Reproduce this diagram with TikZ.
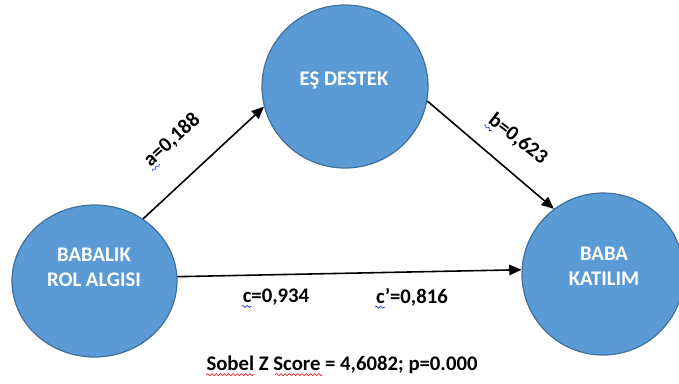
\documentclass[tikz,border=0pt]{standalone}
\usepackage{fontspec}
\setmainfont{Carlito}
\usetikzlibrary{shapes.geometric,arrows.meta,decorations.pathmorphing,calc}
\definecolor{varfill}{RGB}{91,155,213}
\definecolor{varline}{RGB}{65,113,156}
\definecolor{spellblue}{RGB}{40,60,230}
\definecolor{spellred}{RGB}{230,40,40}
\tikzset{
  var/.style={ellipse,draw=varline,fill=varfill,line width=0.7pt,inner sep=0pt},
  vartext/.style={text=white,font=\fontsize{11.8}{14.2}\selectfont\bfseries,align=center},
  coef/.style={font=\fontsize{11.8}{14}\selectfont\bfseries,inner sep=1pt},
  effect/.style={-{Triangle[length=7pt,width=6pt]},line width=0.9pt},
  squiggle/.style={decorate,decoration={snake,amplitude=0.6pt,segment length=2.4pt},line width=0.4pt}
}

\begin{document}
\begin{tikzpicture}[x=0.02cm,y=-0.02cm]
\useasboundingbox (0,0) rectangle (679,383);
% the three variables
\node[var,minimum width=3.3cm,minimum height=3.04cm] (rol) at (94.5,281) {};
\node[var,minimum width=3.32cm,minimum height=3.26cm] (es) at (345,86.5) {};
\node[var,minimum width=3.24cm,minimum height=3.24cm] (kat) at (603,274) {};
\node[vartext] (rolT) at (94,267) {BABALIK\\ROL ALGISI};
\node[vartext] (esT) at (344,80) {EŞ DESTEK};
\node[vartext] (katT) at (604,266) {BABA\\KATILIM};
% paths
\draw[effect] (rol.52) -- (es.194);
\draw[effect] (es.350) -- (kat.127);
\draw[effect] (rol.3) -- (kat.177);
% coefficients
\node[coef,rotate=42] (alab) at (172,140) {a=0,188};
\node[coef,rotate=-38] (blab) at (518,139) {b=0,623};
\node[coef] (clab) at (276,297) {c=0,934};
\node[coef] (cplab) at (412,297) {c’=0,816};
\node[coef] (sobel) at (342,365) {Sobel Z Score = 4,6082; p=0.000};
% spell marks
\draw[squiggle,spellblue,shift={(alab.base west)},rotate=42] (1,4) -- (11,4);
\draw[squiggle,spellblue,shift={(blab.base west)},rotate=-38] (1,4) -- (11,4);
\draw[squiggle,spellblue] ($(clab.base west)+(1,4)$) -- ++(10,0);
\draw[squiggle,spellblue] ($(cplab.base west)+(1,4)$) -- ++(10,0);
\draw[squiggle,spellred] ($(sobel.base west)+(2,4)$) -- ++(48,0);
\draw[squiggle,spellred] ($(sobel.base west)+(71,4)$) -- ++(47,0);
\end{tikzpicture}
\end{document}
